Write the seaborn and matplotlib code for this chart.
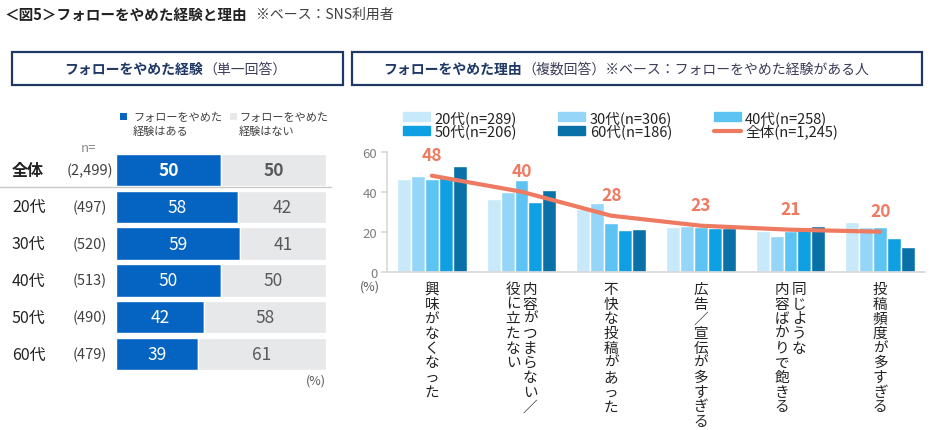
import numpy as np
import pandas as pd
import matplotlib
matplotlib.use("Agg")
import matplotlib.pyplot as plt
import matplotlib.transforms as mtransforms
from matplotlib.patches import Rectangle, Patch
from matplotlib.lines import Line2D
import seaborn as sns

# ------------------------------------------------------------------
# Datos
# ------------------------------------------------------------------
# panel izquierdo: experiencia de dejar de seguir (respuesta única)
GROUPS = ['全体', '20代', '30代', '40代', '50代', '60代']
GROUP_N = ['(2,499)', '(497)', '(520)', '(513)', '(490)', '(479)']
STOPPED = [50, 58, 59, 50, 42, 39]
NOT_STOPPED = [50, 42, 41, 50, 58, 61]
LEGEND_LEFT = ['フォローをやめた\n経験はある', 'フォローをやめた\n経験はない']

# panel derecho: motivos (respuesta múltiple)
REASONS = [['興味がなくなった'],
           ['内容がつまらない／', '役に立たない'],
           ['不快な投稿があった'],
           ['広告／宣伝が多すぎる'],
           ['同じような', '内容ばかりで飽きる'],
           ['投稿頻度が多すぎる']]
AGE_LABELS = ['20代(n=289)', '30代(n=306)', '40代(n=258)', '50代(n=206)', '60代(n=186)']
AGE_20 = [46.3, 36.2, 31.3, 22.2, 20.5, 24.7]
AGE_30 = [47.7, 39.7, 34.2, 23.0, 18.0, 22.5]
AGE_40 = [46.3, 45.7, 24.2, 22.5, 20.5, 22.5]
AGE_50 = [48.0, 34.7, 20.8, 21.8, 22.2, 16.8]
AGE_60 = [52.7, 40.8, 21.3, 21.7, 22.7, 12.2]
OVERALL = [48, 40, 28, 23, 21, 20]
OVERALL_LABEL = '全体(n=1,245)'
Y_TICKS = [0, 20, 40, 60]

# --- colores ---
BLUE = '#0563c1'
GRAY_BAR = '#e7e8ea'
NAVY = '#1f3864'
AGE_COLORS = ['#c8e9fa', '#95d6f8', '#5cc3f3', '#0ea0e2', '#0a70a8']
LINE_COLOR = '#ee7a61'
TXT = '#404040'

# ------------------------------------------------------------------
# Estilo
# ------------------------------------------------------------------
sns.set_theme(style='white')
plt.rcParams['font.family'] = ['Noto Sans CJK JP', 'DejaVu Sans']

W, H = 934, 431
fig = plt.figure(figsize=(W / 100, H / 100), dpi=100)


def fx(px):
    return px / W


def fy(py):
    return 1 - py / H


# --- título ---
fig.text(fx(5), fy(15), '＜図5＞フォローをやめた経験と理由', weight='bold', size=10.5,
         va='center', color='#222222')
fig.text(fx(256), fy(15), '※ベース：SNS利用者', size=10, va='center', color=TXT)

# --- cajas de cabecera ---
for x0, x1 in [(12, 343), (352, 922)]:
    fig.add_artist(Rectangle((fx(x0), fy(86)), fx(x1 - x0), 33 / H,
                             transform=fig.transFigure, fill=False,
                             edgecolor=NAVY, lw=1.6))
fig.text(fx(203), fy(70), 'フォローをやめた経験', weight='bold', size=10,
         ha='right', va='center', color=NAVY)
fig.text(fx(203), fy(70), '（単一回答）', size=10, ha='left', va='center', color='#3c3c5a')
fig.text(fx(522), fy(70), 'フォローをやめた理由', weight='bold', size=10,
         ha='right', va='center', color=NAVY)
fig.text(fx(522), fy(70), '（複数回答）※ベース：フォローをやめた経験がある人', size=10,
         ha='left', va='center', color='#3c3c5a')

# ------------------------------------------------------------------
# Panel izquierdo
# ------------------------------------------------------------------
axL = fig.add_axes([fx(116), fy(373.4), fx(210), (373.4 - 152.6) / H])
ypos = np.arange(len(GROUPS))
axL.barh(ypos, STOPPED, height=0.88, color=BLUE)
axL.barh(ypos, NOT_STOPPED, left=STOPPED, height=0.88, color=GRAY_BAR)
axL.set_xlim(0, 100)
axL.set_ylim(len(GROUPS) - 0.5, -0.5)
axL.axis('off')

for i in range(len(GROUPS)):
    w = 'bold' if i == 0 else 'normal'
    axL.text(STOPPED[i] / 2, i, str(STOPPED[i]), ha='center', va='center',
             color='white', size=12.5, weight=w)
    axL.text(STOPPED[i] + NOT_STOPPED[i] / 2, i, str(NOT_STOPPED[i]), ha='center',
             va='center', color='#595959', size=12.5, weight=w)

trL = mtransforms.blended_transform_factory(fig.transFigure, axL.transData)
for i, (g, n) in enumerate(zip(GROUPS, GROUP_N)):
    axL.text(fx(12), i, g, transform=trL, ha='left', va='center', size=11.5,
             weight='bold' if i == 0 else 'normal', color='#222222')
    axL.text(fx(90), i, n, transform=trL, ha='center', va='center', size=10.5, color=TXT)
fig.text(fx(89), fy(148), 'n=', ha='center', va='center', size=9.5, color='#8c8c8c')
fig.add_artist(Line2D([0, fx(331)], [fy(188), fy(188)], transform=fig.transFigure,
                      color='#c8c8c8', lw=1))
fig.text(fx(326), fy(381), '(%)', ha='right', va='center', size=9, color='#595959')

# leyenda izquierda
for (sx, tx), lab, col in zip([(120, 133), (230, 239)], LEGEND_LEFT, [BLUE, GRAY_BAR]):
    fig.add_artist(Rectangle((fx(sx), fy(121)), fx(7), 7 / H, transform=fig.transFigure,
                             color=col, lw=0))
    fig.text(fx(tx), fy(125), lab, ha='left', va='center', size=8, color=TXT,
             linespacing=1.35)

# ------------------------------------------------------------------
# Panel derecho
# ------------------------------------------------------------------
reason_keys = [''.join(r) for r in REASONS]
df = pd.DataFrame({'reason': reason_keys,
                   AGE_LABELS[0]: AGE_20, AGE_LABELS[1]: AGE_30, AGE_LABELS[2]: AGE_40,
                   AGE_LABELS[3]: AGE_50, AGE_LABELS[4]: AGE_60})
df_long = df.melt(id_vars='reason', var_name='age', value_name='value')

axR = fig.add_axes([fx(387), fy(272.7), fx(538), 120 / H])
sns.barplot(data=df_long, x='reason', y='value', hue='age', hue_order=AGE_LABELS,
            palette=AGE_COLORS, width=0.78, saturation=1, ax=axR, legend=False)
sns.lineplot(x=np.arange(len(OVERALL)), y=OVERALL, color=LINE_COLOR, lw=3, ax=axR)
for i, v in enumerate(OVERALL):
    axR.annotate(str(v), (i, v), xytext=(0, 15), textcoords='offset points',
                 ha='center', va='center', color=LINE_COLOR, weight='bold', size=12.5)

axR.set_xlim(-0.5, len(REASONS) - 0.5)
axR.set_ylim(0, 60)
axR.set_yticks(Y_TICKS)
axR.set_xticks([])
axR.set_xlabel('')
axR.set_ylabel('')
sns.despine(ax=axR)
for s in ['left', 'bottom']:
    axR.spines[s].set_color('#d9d9d9')
axR.tick_params(axis='y', left=True, length=4, color='#d9d9d9', labelsize=9.5,
                labelcolor='#7f7f7f', pad=3)
fig.text(fx(370), fy(287), '(%)', ha='center', va='center', size=9, color='#595959')

# etiquetas verticales de categoría
trR = mtransforms.blended_transform_factory(axR.transData, fig.transFigure)
for i, cols in enumerate(REASONS):
    n = len(cols)
    for j, col in enumerate(cols):
        off = ((n - 1) / 2 - j) * 17
        t = mtransforms.offset_copy(trR, fig=fig, x=off, y=0, units='dots')
        axR.text(i, fy(283), '\n'.join(col), transform=t, ha='center', va='top',
                 size=10.5, color='#222222', linespacing=1.06)

# leyenda derecha (orden por columnas para ncol=3)
handles = [Patch(color=c) for c in AGE_COLORS] + [Line2D([], [], color=LINE_COLOR, lw=3)]
labels = AGE_LABELS + [OVERALL_LABEL]
order = [0, 3, 1, 4, 2, 5]
fig.legend([handles[k] for k in order], [labels[k] for k in order], ncol=3,
           loc='upper left', bbox_to_anchor=(fx(403), fy(111)), frameon=False,
           fontsize=10.5, handlelength=1.85, handleheight=0.55, handletextpad=0.3,
           columnspacing=2.85, labelspacing=-0.08, borderpad=0, borderaxespad=0,
           labelcolor='#222222')

fig.savefig('out.png', dpi=100)
